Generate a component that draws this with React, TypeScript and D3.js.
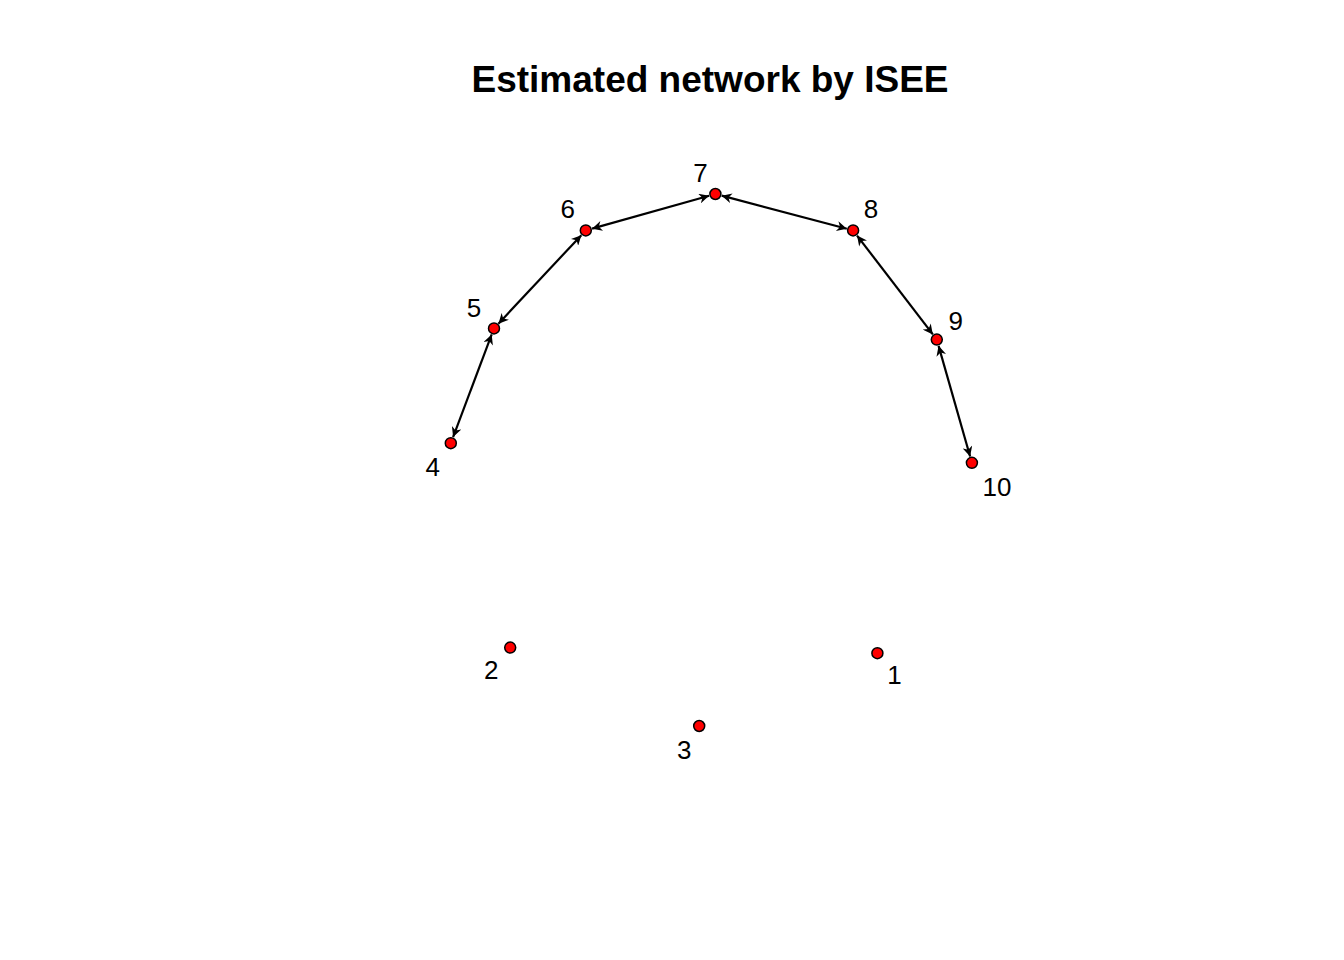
import * as d3 from "d3";

const nodeIds = ["1", "2", "3", "4", "5", "6", "7", "8", "9", "10"];
const nodeX = [0.62, -0.74, -0.04, -0.96, -0.8, -0.46, 0.02, 0.53, 0.84, 0.97];
const nodeY = [-0.69, -0.67, -0.95, 0.06, 0.47, 0.82, 0.95, 0.82, 0.43, -0.01];
// label offset in px (style)
const labelDx = [17, -19, -15, -18, -20, -18, -15, 18, 19, 25];
const labelDy = [22, 22, 24, 24, -20, -21, -21, -21, -19, 24];
const edges: [string, string][] = [
  ["4", "5"], ["5", "6"], ["6", "7"], ["7", "8"], ["8", "9"], ["9", "10"],
];

const W = 1344, H = 960, R = 5.5;

export default function App() {
  const x = d3.scaleLinear().domain([-1, 1]).range([440, 980]);
  const y = d3.scaleLinear().domain([-1, 1]).range([740, 180]);
  const pos = (id: string) => {
    const i = nodeIds.indexOf(id);
    return [x(nodeX[i]), y(nodeY[i])];
  };
  const font = "Liberation Sans, Arial, sans-serif";
  return (
    <svg width={W} height={H} style={{ position: "absolute", left: 0, top: 0, background: "#fff" }} fontFamily={font}>
      <defs>
        <marker id="ah" viewBox="0 0 10 10" refX="10" refY="5" markerWidth="11" markerHeight="10" markerUnits="userSpaceOnUse" orient="auto-start-reverse">
          <path d="M0,0 L10,5 L0,10 L3,5 Z" fill="#000" />
        </marker>
      </defs>
      <text x={710} y={92} textAnchor="middle" fontSize={37} fontWeight="bold">Estimated network by ISEE</text>
      {edges.map(([a, b], k) => {
        const [x1, y1] = pos(a), [x2, y2] = pos(b);
        const L = Math.hypot(x2 - x1, y2 - y1);
        const ux = (x2 - x1) / L, uy = (y2 - y1) / L;
        return (
          <line key={k} x1={x1 + ux * (R + 1)} y1={y1 + uy * (R + 1)} x2={x2 - ux * (R + 1)} y2={y2 - uy * (R + 1)}
            stroke="#000" strokeWidth={2.2} markerStart="url(#ah)" markerEnd="url(#ah)" />
        );
      })}
      {nodeIds.map((id, i) => (
        <g key={id}>
          <circle cx={x(nodeX[i])} cy={y(nodeY[i])} r={R} fill="#ff0000" stroke="#000" strokeWidth={1.5} />
          <text x={x(nodeX[i]) + labelDx[i]} y={y(nodeY[i]) + labelDy[i]} textAnchor="middle" dominantBaseline="central" fontSize={26}>{id}</text>
        </g>
      ))}
    </svg>
  );
}
